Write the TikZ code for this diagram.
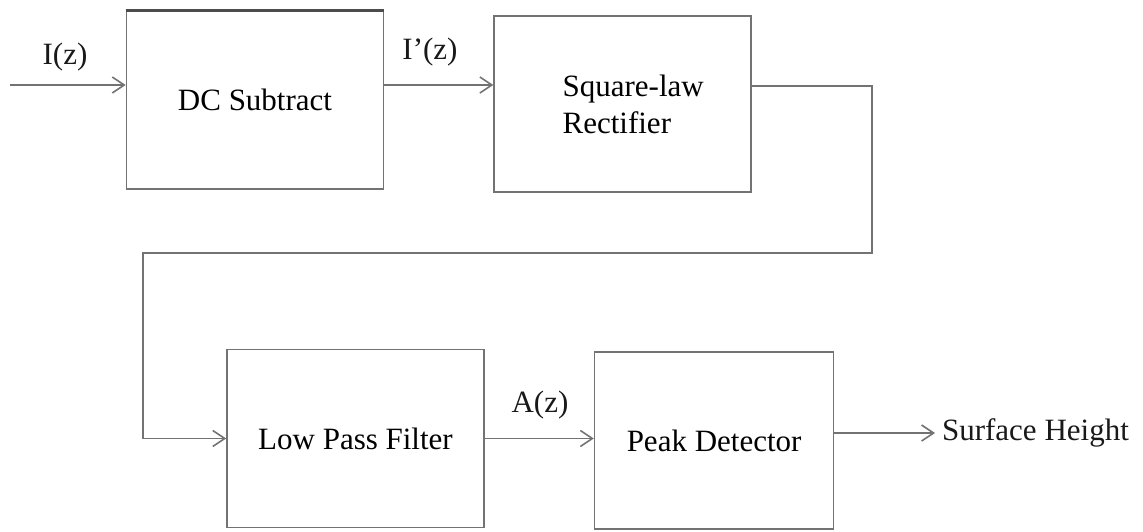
\documentclass[tikz,border=0pt]{standalone}
\usepackage{fontspec}
\setmainfont{Liberation Serif}
\usetikzlibrary{positioning,arrows.meta}

\begin{document}
\begin{tikzpicture}[x=0.5pt, y=-0.5pt, node distance=54.5pt,
                   block/.style={draw=black!55, line width=0.8pt, minimum width=128.5pt,
                                 minimum height=89pt, inner sep=0pt, align=center,
                                 font=\fontsize{15.5}{18.5}\selectfont},
                   sig/.style={font=\fontsize{15.5}{18.5}\selectfont, text=black!90},
                   flow/.style={draw=black!55, line width=0.8pt,
                                -{Straight Barb[length=6pt,width=8pt]}}]
    \useasboundingbox (0,0) rectangle (1143,531);
    \node[block]                                     (dc)  at (255,100) {DC Subtract};
    \node[block, right=of dc, yshift=-2pt, minimum height=88pt, align=left, text width=60pt] (sq) {\mbox{Square-law}\\Rectifier};
    \node[block]                                     (lpf) at (355.5,438.5) {Low Pass Filter};
    \node[block, right=of lpf, yshift=-1pt, minimum width=119.5pt, minimum height=88.5pt] (pd) {Peak Detector};
    \draw[black!70, line width=1.4pt] (dc.north west) -- (dc.north east);
    % signal labels
    \node[sig] (iz)  at (65,57)  {I(z)};
    \node[sig] (ipz) at (430,52) {I'(z)};
    \node[sig] (az)  at (540,405) {A(z)};
    \node[sig, anchor=west] (out) at (935,433) {Surface Height};
    % connections
    \coordinate (src)   at (10,85);
    \coordinate (dcout) at ([yshift=7.5pt]dc.east);
    \coordinate (sqout) at ([yshift=9pt]sq.east);
    \draw[flow] (src) -- (src -| dc.west);
    \draw[flow] (dcout) -- (dcout -| sq.west);
    \draw[flow] (sqout) -- (872,86) -- (872,253) -- (143,253) |- (lpf.west);
    \draw[flow] (lpf.east) -- (lpf.east -| pd.west);
    \draw[flow] (pd.east |- out.west) -- (out.west);
\end{tikzpicture}
\end{document}
